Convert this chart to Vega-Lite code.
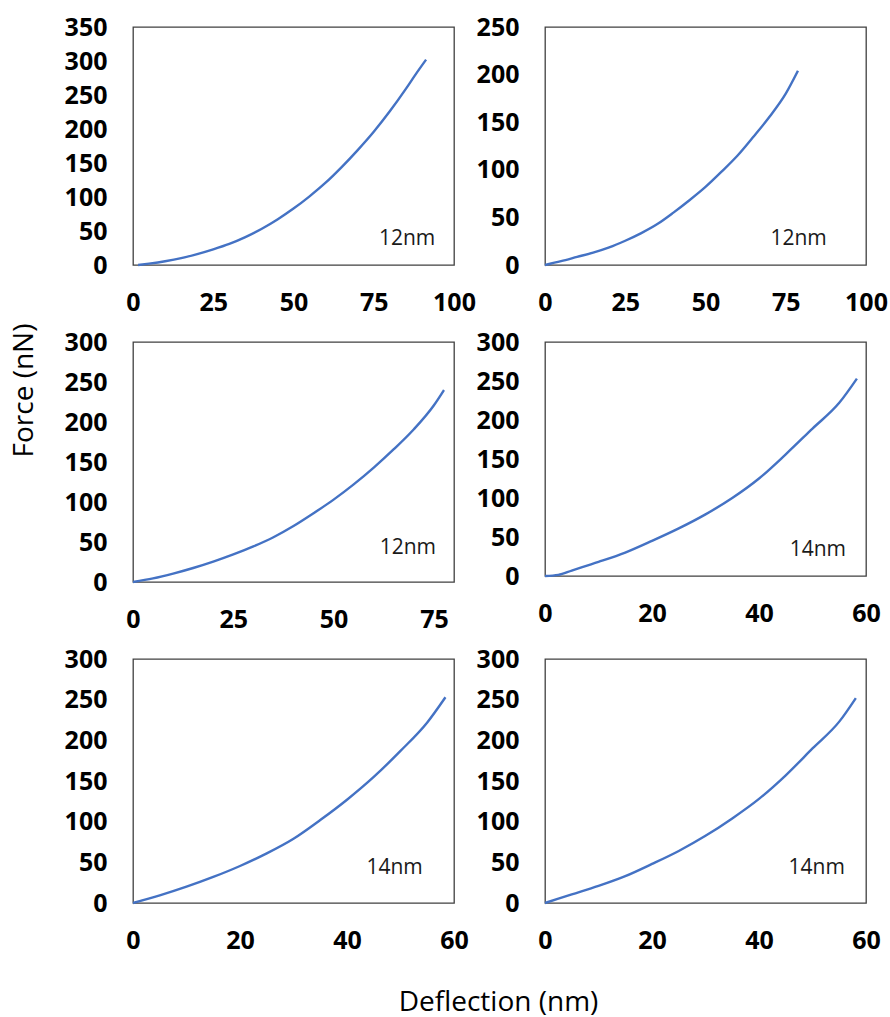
{
  "$schema": "https://vega.github.io/schema/vega-lite/v6.json",
  "background": "white",
  "padding": {"left": 9, "top": 14, "right": 0, "bottom": 0},
  "columns": 2,
  "spacing": {"row": 77, "column": 91},
  "bounds": "flush",
  "concat": [
    {
      "width": 321, "height": 238,
      "layer": [
        {
          "data": {"values": [
            {"x": 1.6, "f": 0}, {"x": 5, "f": 2}, {"x": 10, "f": 5.5}, {"x": 15, "f": 10}, {"x": 20, "f": 16},
            {"x": 25, "f": 23}, {"x": 30, "f": 31}, {"x": 35, "f": 41}, {"x": 40, "f": 53}, {"x": 45, "f": 67},
            {"x": 50, "f": 83}, {"x": 55, "f": 101}, {"x": 60, "f": 121}, {"x": 65, "f": 144}, {"x": 70, "f": 169},
            {"x": 75, "f": 196}, {"x": 80, "f": 226}, {"x": 85, "f": 259}, {"x": 88, "f": 280}, {"x": 91.3, "f": 302}
          ]},
          "mark": {"type": "line", "color": "#4472C4", "strokeWidth": 2.4, "interpolate": "monotone"},
          "encoding": {
            "x": {"field": "x", "type": "quantitative", "title": null, "scale": {"domain": [0, 100], "nice": false}, "axis": {"values": [0, 25, 50, 75, 100], "tickCount": 20}},
            "y": {"field": "f", "type": "quantitative", "title": null, "scale": {"domain": [0, 350], "nice": false}, "axis": {"values": [0, 50, 100, 150, 200, 250, 300, 350], "tickCount": 20}}
          }
        },
        {
          "data": {"values": [{"x": 85.4, "f": 38.7, "label": "12nm"}]},
          "mark": {"type": "text", "fontSize": 21, "color": "#1a1a1a", "align": "center", "baseline": "middle"},
          "encoding": {
            "x": {"field": "x", "type": "quantitative"},
            "y": {"field": "f", "type": "quantitative"},
            "text": {"field": "label"}
          }
        }
      ]
    },
    {
      "width": 321, "height": 238,
      "layer": [
        {
          "data": {"values": [
            {"x": 0, "f": 0}, {"x": 5, "f": 4}, {"x": 10, "f": 8.5}, {"x": 15, "f": 13}, {"x": 20, "f": 18.5},
            {"x": 25, "f": 25.5}, {"x": 30, "f": 33.5}, {"x": 35, "f": 43}, {"x": 40, "f": 55}, {"x": 45, "f": 68},
            {"x": 50, "f": 82}, {"x": 55, "f": 98}, {"x": 60, "f": 115}, {"x": 65, "f": 135}, {"x": 70, "f": 156},
            {"x": 75, "f": 180}, {"x": 78.8, "f": 204}
          ]},
          "mark": {"type": "line", "color": "#4472C4", "strokeWidth": 2.4, "interpolate": "monotone"},
          "encoding": {
            "x": {"field": "x", "type": "quantitative", "title": null, "scale": {"domain": [0, 100], "nice": false}, "axis": {"values": [0, 25, 50, 75, 100], "tickCount": 20}},
            "y": {"field": "f", "type": "quantitative", "title": null, "scale": {"domain": [0, 250], "nice": false}, "axis": {"values": [0, 50, 100, 150, 200, 250], "tickCount": 20}}
          }
        },
        {
          "data": {"values": [{"x": 79, "f": 27, "label": "12nm"}]},
          "mark": {"type": "text", "fontSize": 21, "color": "#1a1a1a", "align": "center", "baseline": "middle"},
          "encoding": {
            "x": {"field": "x", "type": "quantitative"},
            "y": {"field": "f", "type": "quantitative"},
            "text": {"field": "label"}
          }
        }
      ]
    },
    {
      "width": 321, "height": 240,
      "layer": [
        {
          "data": {"values": [
            {"x": 0, "f": 0}, {"x": 5, "f": 4.5}, {"x": 10, "f": 10.5}, {"x": 15, "f": 17.5}, {"x": 20, "f": 25.5},
            {"x": 25, "f": 34.5}, {"x": 30, "f": 44.5}, {"x": 35, "f": 56}, {"x": 40, "f": 70}, {"x": 45, "f": 86},
            {"x": 50, "f": 103}, {"x": 55, "f": 122}, {"x": 60, "f": 143}, {"x": 65, "f": 166}, {"x": 70, "f": 191},
            {"x": 75, "f": 221}, {"x": 77.5, "f": 240}
          ]},
          "mark": {"type": "line", "color": "#4472C4", "strokeWidth": 2.4, "interpolate": "monotone"},
          "encoding": {
            "x": {"field": "x", "type": "quantitative", "title": null, "scale": {"domain": [0, 80], "nice": false}, "axis": {"values": [0, 25, 50, 75], "tickCount": 20}},
            "y": {"field": "f", "type": "quantitative", "title": "Force (nN)", "scale": {"domain": [0, 300], "nice": false},
                  "axis": {"values": [0, 50, 100, 150, 200, 250, 300], "tickCount": 20, "titleX": -109, "titleY": 48, "titleAngle": -90, "titleBaseline": "middle", "titleAlign": "center", "titleFontSize": 28, "titleFontWeight": "normal", "titleFont": "Open Sans", "titleColor": "#000"}}
          }
        },
        {
          "data": {"values": [{"x": 68.5, "f": 43, "label": "12nm"}]},
          "mark": {"type": "text", "fontSize": 21, "color": "#1a1a1a", "align": "center", "baseline": "middle"},
          "encoding": {
            "x": {"field": "x", "type": "quantitative"},
            "y": {"field": "f", "type": "quantitative"},
            "text": {"field": "label"}
          }
        }
      ]
    },
    {
      "width": 321, "height": 234,
      "layer": [
        {
          "data": {"values": [
            {"x": 0, "f": 0}, {"x": 2.5, "f": 1.5}, {"x": 5, "f": 7}, {"x": 10, "f": 18}, {"x": 15, "f": 30},
            {"x": 20, "f": 45}, {"x": 25, "f": 61}, {"x": 30, "f": 79}, {"x": 35, "f": 100}, {"x": 40, "f": 125},
            {"x": 45, "f": 156}, {"x": 50, "f": 189}, {"x": 55, "f": 222}, {"x": 58.3, "f": 253}
          ]},
          "mark": {"type": "line", "color": "#4472C4", "strokeWidth": 2.4, "interpolate": "monotone"},
          "encoding": {
            "x": {"field": "x", "type": "quantitative", "title": null, "scale": {"domain": [0, 60], "nice": false}, "axis": {"values": [0, 20, 40, 60], "tickCount": 20}},
            "y": {"field": "f", "type": "quantitative", "title": null, "scale": {"domain": [0, 300], "nice": false}, "axis": {"values": [0, 50, 100, 150, 200, 250, 300], "tickCount": 20}}
          }
        },
        {
          "data": {"values": [{"x": 51, "f": 33, "label": "14nm"}]},
          "mark": {"type": "text", "fontSize": 21, "color": "#1a1a1a", "align": "center", "baseline": "middle"},
          "encoding": {
            "x": {"field": "x", "type": "quantitative"},
            "y": {"field": "f", "type": "quantitative"},
            "text": {"field": "label"}
          }
        }
      ]
    },
    {
      "width": 321, "height": 244,
      "layer": [
        {
          "data": {"values": [
            {"x": 0, "f": 0}, {"x": 5, "f": 9.3}, {"x": 10, "f": 20}, {"x": 15, "f": 32}, {"x": 20, "f": 45.5},
            {"x": 25, "f": 61}, {"x": 30, "f": 79}, {"x": 35, "f": 102}, {"x": 40, "f": 127}, {"x": 45, "f": 155},
            {"x": 50, "f": 187}, {"x": 55, "f": 222}, {"x": 58.4, "f": 253}
          ]},
          "mark": {"type": "line", "color": "#4472C4", "strokeWidth": 2.4, "interpolate": "monotone"},
          "encoding": {
            "x": {"field": "x", "type": "quantitative", "title": "Deflection (nm)", "scale": {"domain": [0, 60], "nice": false},
                  "axis": {"values": [0, 20, 40, 60], "tickCount": 20, "titleX": 365, "titleY": 99, "titleAngle": 0, "titleBaseline": "middle", "titleAlign": "center", "titleFontSize": 28, "titleFontWeight": "normal", "titleFont": "Open Sans", "titleColor": "#000"}},
            "y": {"field": "f", "type": "quantitative", "title": null, "scale": {"domain": [0, 300], "nice": false}, "axis": {"values": [0, 50, 100, 150, 200, 250, 300], "tickCount": 20}}
          }
        },
        {
          "data": {"values": [{"x": 48.9, "f": 42.7, "label": "14nm"}]},
          "mark": {"type": "text", "fontSize": 21, "color": "#1a1a1a", "align": "center", "baseline": "middle"},
          "encoding": {
            "x": {"field": "x", "type": "quantitative"},
            "y": {"field": "f", "type": "quantitative"},
            "text": {"field": "label"}
          }
        }
      ]
    },
    {
      "width": 321, "height": 244,
      "layer": [
        {
          "data": {"values": [
            {"x": 0, "f": 0}, {"x": 5, "f": 10.5}, {"x": 10, "f": 21}, {"x": 15, "f": 33}, {"x": 20, "f": 48},
            {"x": 25, "f": 64}, {"x": 30, "f": 82.6}, {"x": 35, "f": 104}, {"x": 40, "f": 128}, {"x": 45, "f": 157},
            {"x": 50, "f": 190}, {"x": 55, "f": 223}, {"x": 58.1, "f": 252}
          ]},
          "mark": {"type": "line", "color": "#4472C4", "strokeWidth": 2.4, "interpolate": "monotone"},
          "encoding": {
            "x": {"field": "x", "type": "quantitative", "title": null, "scale": {"domain": [0, 60], "nice": false}, "axis": {"values": [0, 20, 40, 60], "tickCount": 20}},
            "y": {"field": "f", "type": "quantitative", "title": null, "scale": {"domain": [0, 300], "nice": false}, "axis": {"values": [0, 50, 100, 150, 200, 250, 300], "tickCount": 20}}
          }
        },
        {
          "data": {"values": [{"x": 50.8, "f": 43.4, "label": "14nm"}]},
          "mark": {"type": "text", "fontSize": 21, "color": "#1a1a1a", "align": "center", "baseline": "middle"},
          "encoding": {
            "x": {"field": "x", "type": "quantitative"},
            "y": {"field": "f", "type": "quantitative"},
            "text": {"field": "label"}
          }
        }
      ]
    }
  ],
  "config": {
    "font": "Open Sans",
    "view": {"stroke": "#404040", "strokeWidth": 1.3},
    "axis": {
      "grid": false, "ticks": false, "tickSize": 0, "domain": false, "tickCount": 20,
      "labelFont": "Open Sans", "labelFontSize": 25, "labelFontWeight": "bold", "labelColor": "#000",
      "labelPadding": 26, "labelFlush": false, "labelOverlap": false, "labelBound": false
    },
    "axisX": {"labelPadding": 25}
  }
}
